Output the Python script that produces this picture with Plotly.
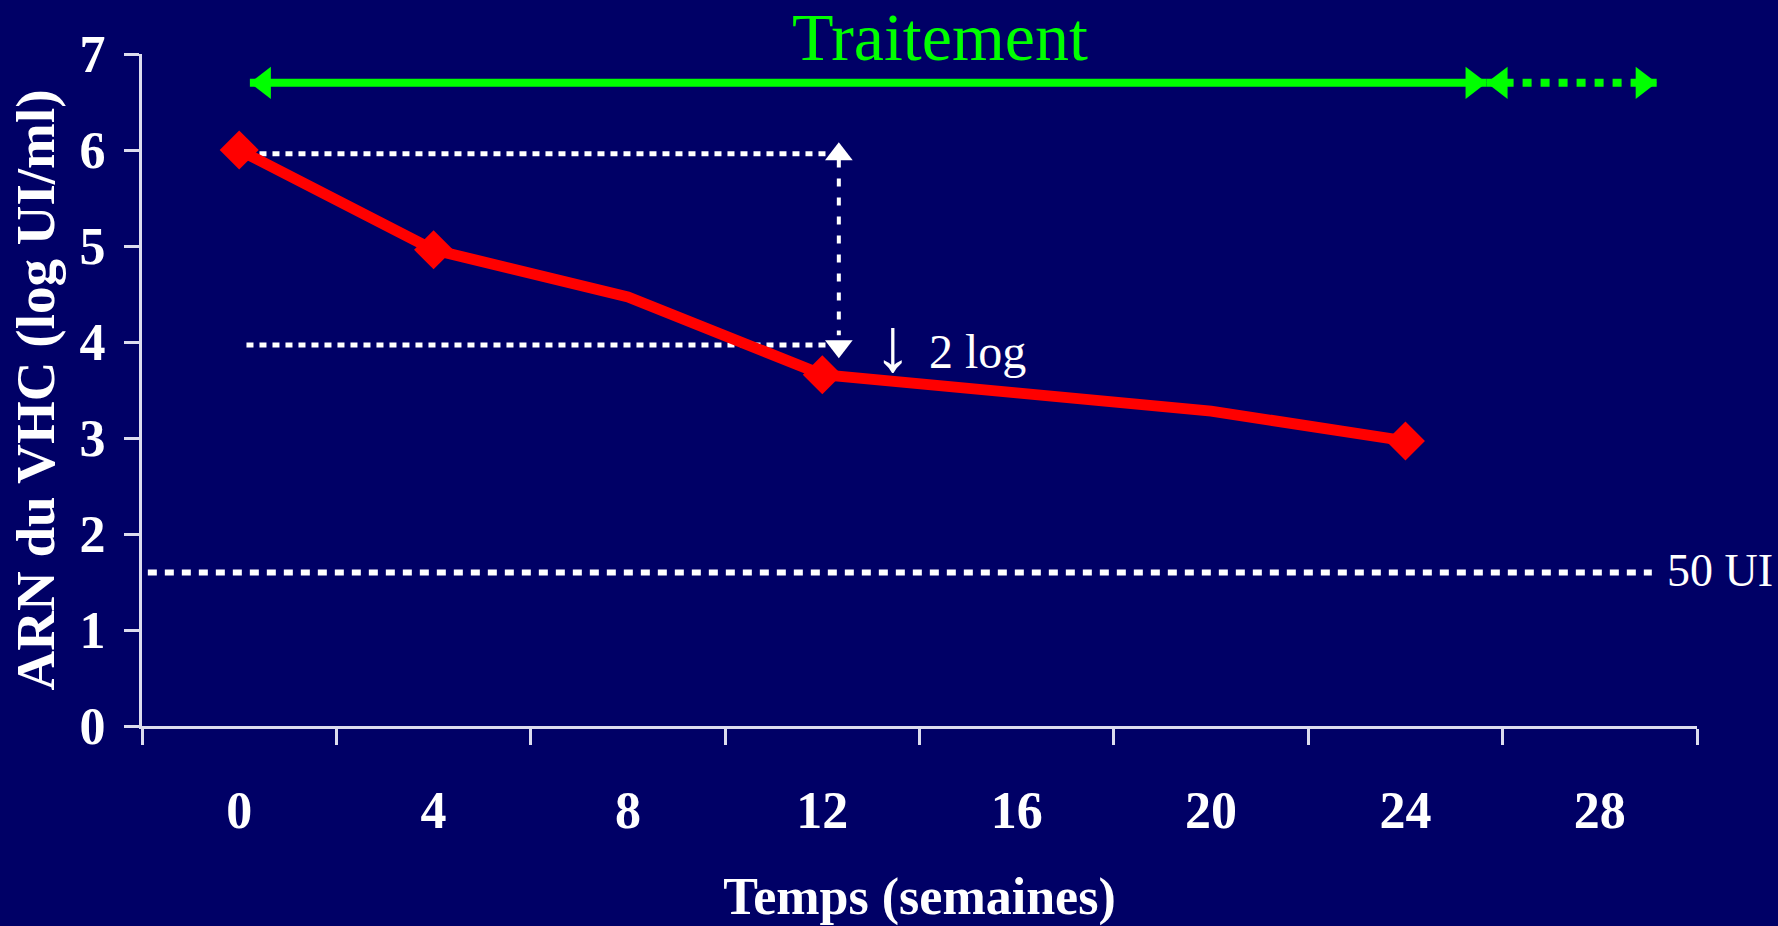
import plotly.graph_objects as go

# ---------------- data ----------------
weeks = [0, 4, 8, 12, 16, 20, 24]
rna_log = [6.0, 4.96, 4.47, 3.66, 3.47, 3.28, 2.97]
measured_weeks = [0, 4, 12, 24]

x_label_vals = [0, 4, 8, 12, 16, 20, 24, 28]
x_tick_vals = [-2, 2, 6, 10, 14, 18, 22, 26, 30]
y_tick_vals = [0, 1, 2, 3, 4, 5, 6, 7]

treatment_x = [0.22, 25.67]      # solid double arrow (tips)
followup_x = [25.67, 29.17]      # dotted double arrow (tips)
treatment_y = 6.70

ref_line_x = [0.15, 12.1]        # horizontal dotted reference lines
baseline_y = 5.96
week12_y = 3.97
drop_x = 12.34
drop_tips = [6.08, 3.83]         # vertical dotted double arrow (tips)
drop_bases = [5.90, 4.07]

lod_y = 1.60                     # 50 UI limit
lod_x = [-1.88, 29.07]

# ---------------- layout constants ----------------
W, H = 1778, 926
ML, MR, MT, MB = 142, 81, 54, 200
X_RANGE = [-2, 30]
Y_RANGE = [0, 7]
pxx = (W - ML - MR) / (X_RANGE[1] - X_RANGE[0])
pxy = (H - MT - MB) / (Y_RANGE[1] - Y_RANGE[0])

BG = "#000066"
GREEN = "#00FF00"
RED = "#FF0000"
WHITE = "#FFFFFF"
AXIS = "#DCDCEE"
SERIF = "Liberation Serif, Times New Roman, serif"

fig = go.Figure()

# 50 UI limit line
fig.add_trace(go.Scatter(x=lod_x, y=[lod_y, lod_y], mode="lines",
                         line=dict(color=WHITE, width=6, dash="9px,8px"),
                         hoverinfo="skip", showlegend=False))

# horizontal reference lines at baseline and week 12
for yy in (baseline_y, week12_y):
    fig.add_trace(go.Scatter(x=ref_line_x, y=[yy, yy], mode="lines",
                             line=dict(color=WHITE, width=5, dash="7px,6px"),
                             hoverinfo="skip", showlegend=False))

# vertical dotted arrow (2 log drop)
fig.add_trace(go.Scatter(x=[drop_x, drop_x], y=drop_bases, mode="lines",
                         line=dict(color=WHITE, width=4, dash="8px,11px"),
                         hoverinfo="skip", showlegend=False))
r_w = 12
fig.add_trace(go.Scatter(x=[drop_x, drop_x],
                         y=[drop_tips[0] - r_w / pxy, drop_tips[1] + r_w / pxy],
                         mode="markers",
                         marker=dict(symbol=["triangle-up", "triangle-down"],
                                     size=2 * r_w, color=WHITE),
                         hoverinfo="skip", showlegend=False))

# viral load curve
fig.add_trace(go.Scatter(x=weeks, y=rna_log, mode="lines",
                         line=dict(color=RED, width=11),
                         hoverinfo="skip", showlegend=False))
fig.add_trace(go.Scatter(x=measured_weeks,
                         y=[rna_log[weeks.index(w)] for w in measured_weeks],
                         mode="markers",
                         marker=dict(symbol="diamond", size=30, color=RED),
                         showlegend=False))

# treatment arrows
r_g = 14
fig.add_trace(go.Scatter(x=treatment_x, y=[treatment_y] * 2, mode="lines",
                         line=dict(color=GREEN, width=8),
                         hoverinfo="skip", showlegend=False))
fig.add_trace(go.Scatter(x=followup_x, y=[treatment_y] * 2, mode="lines",
                         line=dict(color=GREEN, width=8, dash="9px,9px"),
                         hoverinfo="skip", showlegend=False))
fig.add_trace(go.Scatter(
    x=[treatment_x[0] + r_g / pxx, treatment_x[1] - r_g / pxx,
       followup_x[0] + r_g / pxx, followup_x[1] - r_g / pxx],
    y=[treatment_y] * 4, mode="markers",
    marker=dict(symbol=["triangle-left", "triangle-right",
                        "triangle-left", "triangle-right"],
                size=2 * r_g, color=GREEN),
    hoverinfo="skip", showlegend=False))

annotations = [
    dict(x=0.513, y=1.026, xref="paper", yref="paper", text="Traitement",
         showarrow=False, xanchor="center", yanchor="middle",
         font=dict(family=SERIF, size=68, color=GREEN)),
    dict(x=13.45, y=3.97, xref="x", yref="y", text="\u2193",
         showarrow=False, xanchor="center", yanchor="middle",
         font=dict(family=SERIF, size=76, color=WHITE)),
    dict(x=14.15, y=3.90, xref="x", yref="y", text="2 log",
         showarrow=False, xanchor="left", yanchor="middle",
         font=dict(family=SERIF, size=48, color=WHITE)),
    dict(x=29.34, y=1.625, xref="x", yref="y", text="50 UI",
         showarrow=False, xanchor="left", yanchor="middle",
         font=dict(family=SERIF, size=46, color=WHITE)),
]

fig.update_layout(
    width=W, height=H,
    margin=dict(l=ML, r=MR, t=MT, b=MB),
    paper_bgcolor=BG, plot_bgcolor=BG,
    showlegend=False,
    annotations=annotations,
    xaxis=dict(
        range=X_RANGE, showgrid=False, zeroline=False, automargin=False,
        showline=True, linecolor=AXIS, linewidth=3,
        tickmode="array", tickvals=x_label_vals,
        ticktext=[str(v) for v in x_label_vals],
        ticks="", ticklabelstandoff=37,
        tickfont=dict(family=SERIF, size=52, color=WHITE, weight="bold"),
        minor=dict(tickmode="array", tickvals=x_tick_vals, ticks="outside",
                   ticklen=16, tickwidth=3, tickcolor=AXIS, showgrid=False),
        title=dict(text="Temps (semaines)", standoff=50,
                   font=dict(family=SERIF, size=52, color=WHITE, weight="bold")),
    ),
    yaxis=dict(
        range=Y_RANGE, showgrid=False, zeroline=False, automargin=False,
        showline=True, linecolor=AXIS, linewidth=3,
        tickmode="array", tickvals=y_tick_vals,
        ticks="outside", ticklen=15, tickwidth=3, tickcolor=AXIS,
        ticklabelstandoff=8,
        tickfont=dict(family=SERIF, size=52, color=WHITE, weight="bold"),
        title=dict(text="ARN du VHC (log UI/ml)", standoff=8,
                   font=dict(family=SERIF, size=55, color=WHITE, weight="bold")),
    ),
)

fig.write_html("out.html")
